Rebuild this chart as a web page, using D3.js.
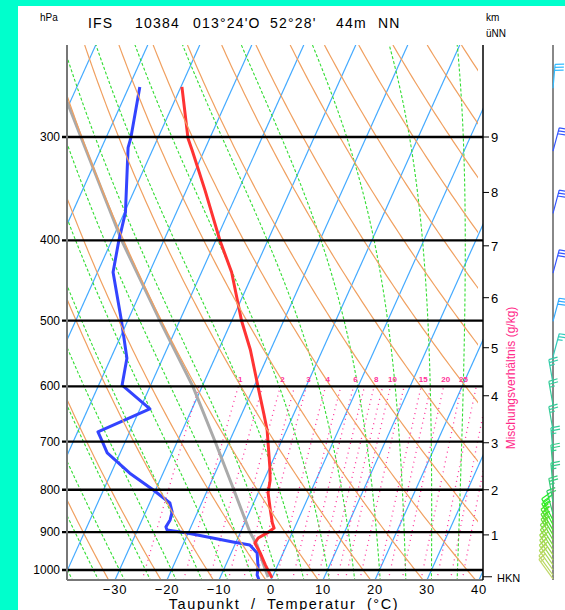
<!DOCTYPE html>
<html>
<head>
<meta charset="utf-8">
<script src="https://cdn.jsdelivr.net/npm/d3@7"></script>
<style>
body { margin: 0; background: #00ffcc; }
svg { display: block; font-family: "Liberation Sans", Arial, sans-serif; }
</style>
</head>
<body>
<svg class="chart"></svg>
<script>
// sounding values (hPa / degC)
var tempP = [261, 301, 311, 348, 400, 437, 500, 542, 601, 650, 678, 751, 779, 807, 846, 877, 890, 902, 915, 928, 954, 986, 1022];
var tempT = [-59.8, -54.2, -52.4, -46.4, -39.2, -34.2, -28.1, -23.9, -19.2, -15.6, -13.7, -10.0, -8.8, -8.1, -6.2, -4.7, -3.9, -4.8, -6.1, -6.3, -4.4, -2.4, 0.0];

var dewP = [261, 301, 309, 370, 401, 437, 500, 555, 598, 639, 681, 700, 722, 764, 800, 830, 851, 870, 887, 895, 902, 925, 933, 954, 992, 1014, 1028];
var dewT = [-67.9, -65.2, -64.9, -59.8, -58.6, -57.0, -51.2, -46.9, -45.5, -38.1, -46.1, -44.4, -42.5, -36.4, -30.5, -26.1, -24.9, -24.6, -24.8, -24.3, -20.2, -10.6, -7.1, -5.0, -3.6, -3.1, -2.3];

var parcelP = [272, 400, 500, 601, 700, 794, 900, 933, 981, 1020];
var parcelT = [-80.6, -58.1, -43.8, -31.7, -22.7, -15.4, -8.2, -5.7, -3.0, -0.8];

var pressureTicks = [1000, 900, 800, 700, 600, 500, 400, 300];
var tempTicks = [-30, -20, -10, 0, 10, 20, 30, 40];
var mixLines = [0.5, 1, 1.5, 2, 2.5, 3, 4, 5, 6, 7, 8, 9, 10, 12, 15, 17, 20, 25, 30, 35, 40];
var mixLabels = [1, 2, 3, 4, 6, 8, 10, 15, 20, 25];

var kmLabels = ["HKN", "1", "2", "3", "4", "5", "6", "7", "8", "9"];
var kmP = [1019, 907, 800, 702, 616, 539, 469, 406, 350, 300];

// wind barbs (hPa, direction deg, knots)
var windP = [262, 312, 371, 438, 501, 553, 595, 632, 678, 720, 755, 794, 828, 856,
             870, 882, 895, 907, 920, 933, 946, 959, 973, 986, 1000, 1014, 1025];
var windDir = [5, 15, 15, 15, 15, 15, 350, 350, 350, 355, 355, 355, 350, 345,
               332, 332, 330, 330, 330, 328, 328, 326, 326, 325, 325, 324, 324];
var windSpd = [30, 30, 30, 30, 30, 25, 25, 25, 25, 25, 25, 25, 25, 25,
               25, 25, 25, 25, 25, 20, 20, 20, 20, 20, 20, 15, 15];
var windCol = ["#33bbff", "#3355ff", "#3355ff", "#3355ff", "#33aaff", "#33ccbb", "#33ccaa", "#33cc99", "#33cc99", "#33cc99", "#33cc88", "#33cc88", "#33cc77", "#33cc66",
               "#22ee22", "#33ee22", "#44e322", "#55e030", "#66dd33", "#77dd40", "#88dd44", "#99d848", "#a0d850", "#a8d855", "#b0d85a", "#b8d862", "#c0d86a"];

var width = 565, height = 610;
var plotL = 67, plotR = 483, plotT = 45, plotB = 580;
var skew = 0.45;

var svg = d3.select(".chart").attr("width", width).attr("height", height);

svg.append("rect").attr("width", width).attr("height", height).attr("fill", "#00ffcc");
svg.append("rect").attr("x", 18).attr("y", 6).attr("width", width - 18).attr("height", height - 6).attr("fill", "#fff");

var y = d3.scaleLog().domain([1000, 300]).range([570, 137]);
var xT = d3.scaleLinear().domain([0, 10]).range([271, 323]);
var pTop = y.invert(plotT), pBot = y.invert(plotB);

function px(t, p) { return xT(t) + skew * (plotB - y(p)); }

var line = d3.line().x(function(d){ return px(d.t, d.p); }).y(function(d){ return y(d.p); });

var defs = svg.append("defs");
defs.append("clipPath").attr("id", "clip").append("rect")
   .attr("x", plotL).attr("y", plotT).attr("width", plotR - plotL).attr("height", plotB - plotT);
defs.append("clipPath").attr("id", "clip2").append("rect")
   .attr("x", plotL).attr("y", plotT).attr("width", plotR - plotL - 5).attr("height", plotB - plotT);

var plot = svg.append("g").attr("clip-path", "url(#clip)");

// pressure samples for curved lines
var pSteps = d3.range(0, 101).map(function(i){ return pBot * Math.pow(pTop / pBot, i / 100); });

// isotherms
d3.range(-130, 60, 10).forEach(function(t){
  plot.append("path").attr("d", line([{t:t, p:pBot}, {t:t, p:pTop}]))
      .attr("fill", "none").attr("stroke", "#44aaff").attr("stroke-width", 1.2);
});

// dry adiabats (theta in K)
var dry = svg.append("g").attr("clip-path", "url(#clip2)");
d3.range(200, 470, 10).forEach(function(th){
  var pts = pSteps.map(function(p){ return {p:p, t: th * Math.pow(p / 1000, 0.286) - 273.15}; });
  dry.append("path").attr("d", line(pts))
     .attr("fill", "none").attr("stroke", "#f0a060").attr("stroke-width", 1.2);
});

// moist adiabats
function es(t){ return 6.112 * Math.exp(17.67 * t / (t + 243.5)); }
function dTdp(t, p){
  var Tk = t + 273.15, e = es(t), rs = 0.622 * e / (p - e);
  var Lv = 2.501e6, Rd = 287.04, cp = 1005.7;
  return (Rd * Tk + Lv * rs) / (p * (cp + Lv * Lv * rs * 0.622 / (Rd * Tk * Tk)));
}
function moist(tw){
  var pts = [], t = tw, p = 1000, dp = -2;
  while (p > pTop - 2) { pts.push({p:p, t:t}); t += dTdp(t, p) * dp; p += dp; }
  var down = [], t2 = tw, p2 = 1000;
  while (p2 < pBot + 2) { p2 += 2; t2 += dTdp(t2, p2) * 2; down.push({p:p2, t:t2}); }
  return down.reverse().concat(pts);
}
d3.range(-45, 50, 5).forEach(function(tw){
  plot.append("path").attr("d", line(moist(tw)))
      .attr("fill", "none").attr("stroke", "#33dd33").attr("stroke-width", 1.1)
      .attr("stroke-dasharray", "3,2");
});

// mixing ratio lines
function tdw(w, p){
  var e = w * p / (622 + w), l = Math.log(e / 6.112);
  return 243.5 * l / (17.67 - l);
}
mixLines.forEach(function(w){
  var pts = d3.range(0, 21).map(function(i){ var p = pBot * Math.pow(600 / pBot, i / 20); return {p:p, t:tdw(w, p)}; });
  plot.append("path").attr("d", line(pts))
      .attr("fill", "none").attr("stroke", "#ff3399").attr("stroke-width", 1.3)
      .attr("stroke-dasharray", "1,4");
});
mixLabels.forEach(function(w){
  svg.append("text").attr("x", px(tdw(w, 600), 600) + 2).attr("y", y(600) - 4)
     .attr("text-anchor", "middle").attr("font-size", 8).attr("font-weight", "bold")
     .attr("fill", "#ff3399").text(w);
});

// pressure lines
pressureTicks.forEach(function(p){
  svg.append("line").attr("x1", plotL - 5).attr("x2", plotR).attr("y1", y(p)).attr("y2", y(p))
     .attr("stroke", "#000").attr("stroke-width", 2.3);
  svg.append("text").attr("x", plotL - 7).attr("y", y(p) + 4).attr("text-anchor", "end")
     .attr("font-size", 12).text(p);
});

// profiles
function prof(ps, ts){ return ps.map(function(p, i){ return {p:p, t:ts[i]}; }); }
plot.append("path").attr("d", line(prof(parcelP, parcelT)))
    .attr("fill", "none").attr("stroke", "#aaaaaa").attr("stroke-width", 3);
plot.append("path").attr("d", line(prof(dewP, dewT)))
    .attr("fill", "none").attr("stroke", "#3344ff").attr("stroke-width", 3).attr("stroke-linejoin", "round");
plot.append("path").attr("d", line(prof(tempP, tempT)))
    .attr("fill", "none").attr("stroke", "#ff3333").attr("stroke-width", 3).attr("stroke-linejoin", "round");

// frame
svg.append("line").attr("x1", plotL).attr("x2", plotL).attr("y1", plotT).attr("y2", plotB)
   .attr("stroke", "#777").attr("stroke-width", 2);
svg.append("line").attr("x1", plotL).attr("x2", plotR).attr("y1", plotB).attr("y2", plotB)
   .attr("stroke", "#777").attr("stroke-width", 2);
svg.append("line").attr("x1", plotR).attr("x2", plotR).attr("y1", plotT).attr("y2", plotB)
   .attr("stroke", "#000").attr("stroke-width", 1.5);

// temperature labels
tempTicks.forEach(function(t){
  svg.append("text").attr("x", xT(t)).attr("y", 594).attr("text-anchor", "middle")
     .attr("font-size", 13).attr("letter-spacing", 0.8).text(t < 0 ? "\u2212" + (-t) : t);
});
svg.append("text").attr("x", 284).attr("y", 608.5).attr("text-anchor", "middle")
   .attr("font-size", 14.5).attr("letter-spacing", 1.6).attr("word-spacing", 5)
   .text("Taupunkt / Temperatur (\u00b0C)");

// height axis
kmLabels.forEach(function(k, i){
  var yy = y(kmP[i]);
  svg.append("line").attr("x1", plotR).attr("x2", plotR + (k == "HKN" ? 9 : 6)).attr("y1", yy).attr("y2", yy)
     .attr("stroke", "#000").attr("stroke-width", 1);
  svg.append("text").attr("x", plotR + (k == "HKN" ? 14 : 8)).attr("y", yy + 5)
     .attr("font-size", k == "HKN" ? 11 : 13).text(k);
});

svg.append("text").attr("x", 40).attr("y", 21).attr("font-size", 10).text("hPa");
svg.append("text").attr("x", 486).attr("y", 21).attr("font-size", 10).text("km");
svg.append("text").attr("x", 486).attr("y", 37).attr("font-size", 10).text("\u00fcNN");

var title = svg.append("text").attr("y", 28).attr("font-size", 14).attr("letter-spacing", 1.2);
[["IFS", 88], ["10384", 135], ["013\u00b024'O", 193], ["52\u00b028'", 270], ["44m", 336], ["NN", 378]].forEach(function(d){
  title.append("tspan").attr("x", d[1]).text(d[0]);
});

svg.append("text").attr("transform", "translate(515,378) rotate(-90)").attr("text-anchor", "middle")
   .attr("font-size", 12).attr("fill", "#ff2a8a").text("Mischungsverh\u00e4ltnis (g/kg)");

// wind column
var wx = 553;
svg.append("line").attr("x1", wx).attr("x2", wx).attr("y1", plotT).attr("y2", plotB)
   .attr("stroke", "#888").attr("stroke-width", 2);

function barb(p, dir, spd, col){
  var bx = wx, by = y(p), a = dir * Math.PI / 180;
  var ux = Math.sin(a), uy = -Math.cos(a), nx = -uy, ny = ux, L = 24;
  var d = "M" + bx + "," + by + "L" + (bx + ux * L) + "," + (by + uy * L);
  var s = Math.round(spd / 5) * 5, pos = L;
  while (s >= 10) {
    var sx = bx + ux * pos, sy = by + uy * pos;
    d += "M" + sx + "," + sy + "L" + (sx + nx * 9 + ux * 1) + "," + (sy + ny * 9 + uy * 1);
    pos -= 3; s -= 10;
  }
  if (s >= 5) {
    var hx = bx + ux * pos, hy = by + uy * pos;
    d += "M" + hx + "," + hy + "L" + (hx + nx * 5 + ux * 0.5) + "," + (hy + ny * 5 + uy * 0.5);
  }
  svg.append("path").attr("d", d).attr("fill", "none").attr("stroke", col).attr("stroke-width", 1.2);
}
windP.forEach(function(p, i){ barb(p, windDir[i], windSpd[i], windCol[i]); });
</script>
</body>
</html>
